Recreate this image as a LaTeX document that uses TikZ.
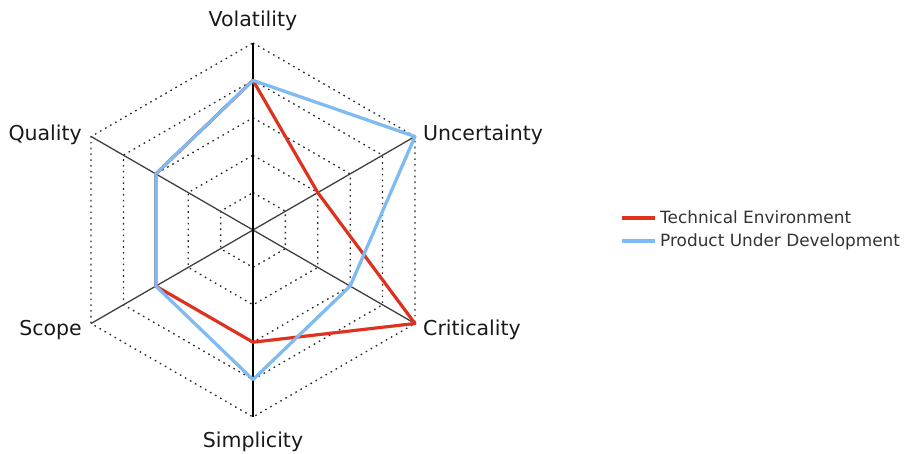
\documentclass[tikz,border=0pt]{standalone}
\usepackage{fontspec}
\setmainfont{DejaVu Sans}
\usetikzlibrary{calc}
\definecolor{tered}{HTML}{E0301E}
\definecolor{pdblue}{HTML}{7DBBF5}
\begin{document}
\begin{tikzpicture}[x=1pt,y=1pt,
 axis/.style={draw=black!75, line width=1.3pt},
 vaxis/.style={draw=black, line width=1.3pt},
 ring/.style={draw=black!85, line width=1.3pt, dash pattern=on 1.6pt off 4.2pt},
 lbl/.style={font=\fontsize{20.5}{24}\selectfont, inner sep=0pt, text=black!90},
 leg/.style={font=\fontsize{16.9}{19}\selectfont, inner sep=0pt, anchor=base west, text=black!80},
 serieA/.style={draw=tered, line width=3.1pt, line join=round},
 serieB/.style={draw=pdblue, line width=3.1pt, line join=round},
 shade/.style={draw=black!35, line width=3.1pt, line join=round, opacity=0.5}]
\useasboundingbox (0,0) rectangle (908,-454);
\coordinate (c) at (253,-230);
\foreach \n/\a in {vo/90, un/30, cr/-30, si/-90, sc/-150, qu/150} {
  \foreach \l in {1,...,5} { \coordinate (\n\l) at ($(c)+(\a:\l*37.4)$); }
}
% rings
\foreach \l in {1,...,5} {
  \draw[ring] (vo\l)--(un\l)--(cr\l)--(si\l)--(sc\l)--(qu\l)--cycle;
}
% axes
\draw[axis] (un5)--(sc5);
\draw[axis] (cr5)--(qu5);
\draw[vaxis] (vo5)--(si5);
% shadows
\begin{scope}[shift={(0.9,-0.9)}]
\draw[shade] (vo4)--(un2)--(cr5)--(si3)--(sc3)--(qu3)--cycle;
\draw[shade] (vo4)--(un5)--(cr3)--(si4)--(sc3)--(qu3)--cycle;
\end{scope}
% series
\draw[serieA] (vo4)--(un2)--(cr5)--(si3)--(sc3)--(qu3)--cycle;
\draw[serieB] (vo4)--(un5)--(cr3)--(si4)--(sc3)--(qu3)--cycle;
% labels
\node[lbl, anchor=base] (lvo) at (253,-27) {Volatility};
\node[lbl, anchor=base west] (lun) at (423,-141) {Uncertainty};
\node[lbl, anchor=base west] (lcr) at (423,-336) {Criticality};
\node[lbl, anchor=base] (lsi) at (253,-447) {Simplicity};
\node[lbl, anchor=base east] (lsc) at (82,-336) {Scope};
\node[lbl, anchor=base east] (lqu) at (82,-141) {Quality};
% legend
\coordinate (la1) at (622,-218);
\coordinate (la2) at (655,-218);
\coordinate (lb1) at (622,-241);
\coordinate (lb2) at (655,-241);
\draw[serieA] (la1)--(la2);
\draw[serieB] (lb1)--(lb2);
\node[leg] (lta) at (660,-224) {Technical Environment};
\node[leg] (ltb) at (660,-247) {Product Under Development};
\end{tikzpicture}
\end{document}
